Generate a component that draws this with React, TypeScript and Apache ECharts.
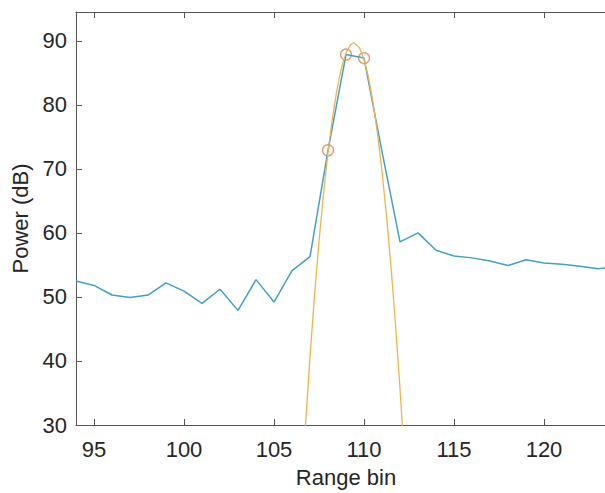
import React, { useEffect, useRef } from "react";
import * as echarts from "echarts";

// Measured power per range bin (blue line)
const rangeBins = [94, 95, 96, 97, 98, 99, 100, 101, 102, 103, 104, 105, 106, 107, 108, 109, 110, 111, 112, 113, 114, 115, 116, 117, 118, 119, 120, 121, 122, 123, 124];
const powerDb = [52.5, 51.8, 50.3, 49.9, 50.3, 52.2, 50.9, 49.0, 51.2, 47.9, 52.7, 49.2, 54.1, 56.3, 72.9, 87.85, 87.3, 72.7, 58.6, 60.0, 57.3, 56.4, 56.1, 55.6, 54.9, 55.8, 55.3, 55.1, 54.8, 54.4, 54.7];

// Bins marked with circles (the points used for the fit)
const peakBins = [108, 109, 110];

// Fitted curve (orange line)
const fitX = [106.6, 106.75, 107.0, 107.25, 107.5, 107.75, 108.0, 108.25, 108.5, 108.75, 109.0, 109.25, 109.44, 109.5, 109.75, 110.0, 110.25, 110.5, 110.75, 111.0, 111.25, 111.5, 111.75, 112.0, 112.25];
const fitY = [23.2, 30.0, 40.6, 50.2, 58.7, 66.1, 72.6, 78.0, 82.4, 85.8, 88.1, 89.4, 89.7, 89.6, 88.9, 87.1, 84.3, 80.4, 75.5, 69.6, 62.7, 54.7, 45.7, 35.7, 24.6];

// Tick labels
const xTicks = [95, 100, 105, 110, 115, 120];
const yTicks = [30, 40, 50, 60, 70, 80, 90];

const FONT = "'Liberation Sans', Arial, Helvetica, sans-serif";
const AXIS_COLOR = "#555555";
const TEXT_COLOR = "#262626";
const FS = 22;

export default function App() {
  const ref = useRef<HTMLDivElement>(null);

  useEffect(() => {
    document.body.style.margin = "0";
    document.body.style.overflow = "hidden";
    document.documentElement.style.overflow = "hidden";
    if (!ref.current) return;
    const chart = echarts.init(ref.current, undefined, { renderer: "svg" });

    const blue = rangeBins.map((b, i) => [b, powerDb[i]]);
    const fit = fitX.map((x, i) => [x, fitY[i]]);
    const circles = peakBins.map((b) => [b, powerDb[rangeBins.indexOf(b)]]);

    const tickCommon = {
      show: true,
      inside: true,
      length: 6,
      lineStyle: { color: AXIS_COLOR, width: 1 },
    };

    chart.setOption({
      animation: false,
      backgroundColor: "#ffffff",
      grid: { left: 76, top: 12, right: 0, bottom: 66, containLabel: false },
      xAxis: [
        {
          type: "value",
          position: "bottom",
          min: 94,
          max: 124,
          name: "Range bin",
          nameLocation: "middle",
          nameGap: 41,
          nameTextStyle: { fontFamily: FONT, fontSize: FS, color: TEXT_COLOR },
          axisLine: { show: true, lineStyle: { color: AXIS_COLOR, width: 1 } },
          axisTick: { ...tickCommon, customValues: xTicks },
          axisLabel: {
            customValues: xTicks,
            fontFamily: FONT,
            fontSize: FS,
            color: TEXT_COLOR,
            margin: 13,
          },
          splitLine: { show: false },
        },
        {
          type: "value",
          position: "top",
          min: 94,
          max: 124,
          axisLine: { show: true, onZero: false, lineStyle: { color: AXIS_COLOR, width: 1 } },
          axisTick: { ...tickCommon, customValues: xTicks },
          axisLabel: { show: false },
          splitLine: { show: false },
        },
      ],
      yAxis: {
        type: "value",
        min: 30,
        max: 94.5,
        name: "Power (dB)",
        nameLocation: "middle",
        nameGap: 40,
        nameTextStyle: { fontFamily: FONT, fontSize: FS, color: TEXT_COLOR },
        axisLine: { show: true, lineStyle: { color: AXIS_COLOR, width: 1 } },
        axisTick: { ...tickCommon, customValues: yTicks },
        axisLabel: {
          customValues: yTicks,
          fontFamily: FONT,
          fontSize: FS,
          color: TEXT_COLOR,
          margin: 9,
        },
        splitLine: { show: false },
      },
      series: [
        {
          type: "line",
          data: blue,
          xAxisIndex: 0,
          showSymbol: false,
          symbol: "none",
          lineStyle: { color: "#43A0C8", width: 1.5 },
          clip: true,
        },
        {
          type: "line",
          data: fit,
          xAxisIndex: 0,
          showSymbol: false,
          symbol: "none",
          lineStyle: { color: "#EDB44A", width: 1.3 },
          clip: true,
        },
        {
          type: "scatter",
          data: circles,
          xAxisIndex: 0,
          symbol: "circle",
          symbolSize: 11,
          itemStyle: { color: "rgba(0,0,0,0)", borderColor: "#D9805A", borderWidth: 1.3 },
        },
      ],
    });

    return () => chart.dispose();
  }, []);

  return (
    <div
      ref={ref}
      style={{ position: "fixed", left: 0, top: 0, width: 616, height: 493, background: "#fff" }}
    />
  );
}
